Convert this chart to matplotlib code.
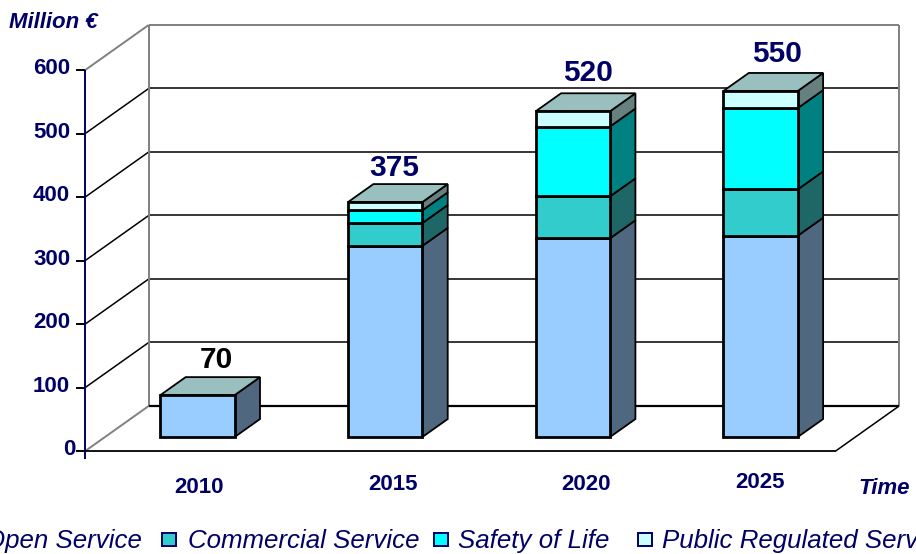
import numpy as np
import matplotlib
matplotlib.use("Agg")
import matplotlib.pyplot as plt
from matplotlib.patches import Polygon, Rectangle

plt.rcParams['font.family'] = ['Liberation Sans', 'DejaVu Sans']

# data
years = ["2010", "2015", "2020", "2025"]
totals = ["70", "375", "520", "550"]
open_service = [66, 301, 313, 317]
commercial = [0, 36, 66, 73]
safety = [0, 20, 110, 128]
prs = [0, 13, 24, 27]
yticks = [0, 100, 200, 300, 400, 500, 600]
legend_names = ["Open Service", "Commercial Service", "Safety of Life", "Public Regulated Service"]

# front, side colours for each series
front_cols = ["#99CCFF", "#33CCCC", "#00FFFF", "#CCFFFF"]
side_cols = ["#4F6880", "#1F6666", "#008080", "#668080"]
top_col = "#99C0BE"
navy = "#000066"

W, H = 916, 554
DX = 0.338  # depth of the floor in category units
DY = 70.9   # depth of the floor in value units
BAR_D0, BAR_D1 = 0.31, 0.71
HALF = 0.198
XL, XR = -0.493, 3.505


def pt(x, v, d=0.0):
    return (x + d * DX, v + d * DY)


fig = plt.figure(figsize=(W / 100, H / 100), dpi=100)
ax = fig.add_axes([0, 0, 1, 1])
ax.set_xlim(-177.8 / 187.7, (W - 177.8) / 187.7)
ax.set_ylim(-103 / 0.635, 451 / 0.635)
ax.axis("off")


def line(a, b, color="black", lw=1.1, z=1):
    ax.plot([a[0], b[0]], [a[1], b[1]], color=color, lw=lw, zorder=z, solid_capstyle="butt")


def px(x, y):
    return x / W, 1 - y / H


# walls and floor
grey = "#808080"
for v in yticks[1:-1]:
    line(pt(XL, v), pt(XL, v, 1))
    line(pt(XL, v, 1), pt(XR, v, 1))
line(pt(XL, 600), pt(XL, 600, 1), grey, 1.4)
line(pt(XL, 600, 1), pt(XR, 600, 1), grey, 1.4)
line(pt(XL, 0, 1), pt(XL, 600, 1), grey, 1.4)
line(pt(XR, 0, 1), pt(XR, 600, 1), grey, 1.4)
line(pt(XL, 0), pt(XL, 0, 1), grey, 1.4)
line(pt(XL, 0, 1), pt(XR, 0, 1), "black", 1.6)
line(pt(XL, 0), pt(XR, 0), "black", 1.3)
line(pt(XR, 0), pt(XR, 0, 1), "black", 1.1)

# value axis
line(pt(XL, -13), pt(XL, 600), navy, 1.4, 3)
for v in yticks:
    line((XL - 0.048, v), (XL, v), "black", 1.4, 3)
    # the zero label sits closer to the axis in the original
    lab_x = XL - 0.05 if v == 0 else XL - 0.08
    ax.text(lab_x, v + 2, str(v), ha="right", va="center", color=navy,
            fontsize=16, fontweight="bold")

# label nudges, the original labels are not evenly placed
total_dx = [-0.035, -0.085, -0.055, -0.05]
total_dv = [-3, -4, 2, 0]
year_x = [0.113, 1.147, 2.175, 3.1]
year_v = [-58, -52, -52, -50]

# stacked bars
series = [open_service, commercial, safety, prs]
for i in range(len(years)):
    left, right = i - HALF, i + HALF
    base = 0
    for vals, fc, sc in zip(series, front_cols, side_cols):
        val = vals[i]
        if val == 0:
            continue
        top = base + val
        ax.add_patch(Polygon([pt(right, base, BAR_D0), pt(right, base, BAR_D1),
                              pt(right, top, BAR_D1), pt(right, top, BAR_D0)],
                             fc=sc, ec="black", lw=1.3, zorder=5, joinstyle="miter"))
        ax.add_patch(Polygon([pt(left, base, BAR_D0), pt(right, base, BAR_D0),
                              pt(right, top, BAR_D0), pt(left, top, BAR_D0)],
                             fc=fc, ec="black", lw=2.0, zorder=6, joinstyle="miter"))
        base = top
    ax.add_patch(Polygon([pt(left, base, BAR_D0), pt(right, base, BAR_D0),
                          pt(right, base, BAR_D1), pt(left, base, BAR_D1)],
                         fc=top_col, ec="black", lw=1.3, zorder=5, joinstyle="miter"))
    cx, cy = pt(i, base, BAR_D1)
    ax.text(cx + total_dx[i], cy + 8 + total_dv[i], totals[i], ha="center", va="bottom",
            color="black" if i == 0 else navy, fontsize=21.5, fontweight="bold")
    ax.text(year_x[i], year_v[i], years[i], ha="center", va="center",
            color=navy, fontsize=16, fontweight="bold")

# axis titles and legend, placed in figure pixels
fig.text(*px(9, 22), "Million €", color=navy, fontsize=16, fontweight="bold", style="italic", va="center")
fig.text(*px(858, 488), "Time", color=navy, fontsize=16, fontweight="bold", style="italic", va="center")

leg_box_x = [None, 162, 434, 638]
leg_text_x = [-15, 188, 458, 662]
for name, bx, tx, col in zip(legend_names, leg_box_x, leg_text_x, front_cols):
    if bx is not None:
        x0, y0 = px(bx, 546)
        fig.add_artist(Rectangle((x0, y0), 14 / W, 13 / H, transform=fig.transFigure,
                                 fc=col, ec=navy, lw=1.4))
    fig.text(*px(tx, 541), name, color=navy, fontsize=18.6, style="italic", va="center")

fig.savefig("out.png", dpi=100)
